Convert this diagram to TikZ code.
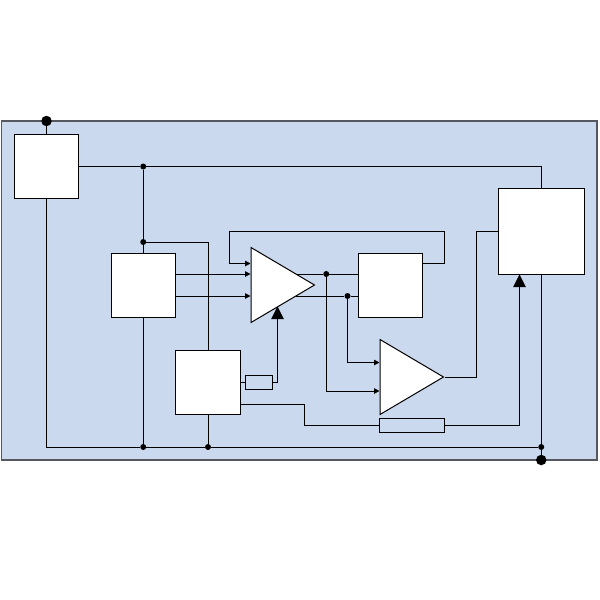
\documentclass[tikz,border=0pt]{standalone}
\usetikzlibrary{shapes.geometric,arrows.meta,backgrounds,calc}
\definecolor{panelblue}{HTML}{CBD9EE}
\definecolor{panelline}{HTML}{55585F}
\tikzset{
  x=1pt,y=-1pt,
  wire/.style={draw=black,line width=1pt},
  smallin/.style={wire,-{Triangle[length=5.5pt,width=5.5pt,fill=black]}},
  bigin/.style={wire,-{Triangle[length=12.5pt,width=12.5pt,fill=black]}},
  blockbox/.style={draw=black,fill=white,line width=1pt,inner sep=0pt,minimum size=64.5pt,rectangle},
  bigblock/.style={blockbox,minimum size=86.5pt},
  resist/.style={draw=black,line width=1pt,inner sep=0pt,rectangle},
  amp/.style={draw=black,fill=white,line width=1pt,inner sep=0pt,isosceles triangle,isosceles triangle apex angle=60,isosceles triangle stretches=true,minimum width=75pt,minimum height=63.5pt,anchor=apex},
  junction/.style={circle,fill=black,inner sep=0pt,minimum size=6pt},
  terminal/.style={circle,fill=black,inner sep=0pt,minimum size=10.5pt},
}
\begin{document}
\begin{tikzpicture}
\useasboundingbox (0,0) rectangle (600,600);
% blocks
\node[blockbox] (b1) at (46.5,166.5) {};
\node[blockbox] (b2) at (143.25,285.25) {};
\node[blockbox] (b3) at (208,382.5) {};
\node[blockbox] (b4) at (390.5,285.25) {};
\node[bigblock] (b5) at (541.25,231.25) {};
\node[amp] (a1) at (315.5,285) {};
\node[amp] (a2) at (444.5,377) {};
\node[resist,minimum width=27pt,minimum height=13.5pt] (r1) at (258.75,382.25) {};
\node[resist,minimum width=64.5pt,minimum height=14pt] (r2) at (412,425.25) {};
% junctions and terminals
\node[terminal] (tt) at (46.5,121) {};
\node[terminal] (tb) at (541.25,460) {};
\node[junction] (j1) at (143.25,166.5) {};
\node[junction] (j2) at (143.25,242) {};
\node[junction] (j3) at (143.25,447) {};
\node[junction] (j4) at (208,447) {};
\node[junction] (j5) at (541.25,447) {};
\node[junction] (j6) at (326.25,274) {};
\node[junction] (j7) at (347.5,296) {};
% routing points
\coordinate (fbr) at (444.5,231.5);
\coordinate (fbl) at (229.5,231.5);
\coordinate (a1i1) at (250.5,263.5);
\coordinate (a1i2) at (250.5,274);
\coordinate (a1i3) at (250.5,296);
\coordinate (a2i1) at (379.5,362.5);
\coordinate (a2i2) at (379.5,391);
\coordinate (a1b) at (277.5,306.5);
\coordinate (b5b) at (519.5,274.5);
\coordinate (o2) at (476.5,377);
\coordinate (s1) at (304.5,404);
\coordinate (s2) at (304.5,425.25);
\coordinate (s3) at (519.5,425.25);
\begin{scope}[on background layer]
\draw[panelline,fill=panelblue,line width=1.2pt] (1.5,121) rectangle (597,460);
% supply rails
\draw[wire] (tt) -- (b1.north);
\draw[wire] (b1.east) -- (j1) -- (j1 -| b5.north) -- (b5.north);
\draw[wire] (j1) -- (j2) -- (b2.north);
\draw[wire] (j2) -- (j2 -| b3.north) -- (b3.north);
\draw[wire] (b1.south) -- (b1.south |- j3) -- (j3) -- (j4) -- (j5);
\draw[wire] (b2.south) -- (j3);
\draw[wire] (b3.south) -- (j4);
\draw[wire] (b5.south) -- (j5) -- (tb);
% first amplifier
\draw[smallin] (b2.east |- a1i2) -- (a1i2);
\draw[smallin] (b2.east |- a1i3) -- (a1i3);
\draw[smallin] (b4.east |- a1i1) -- (fbr |- a1i1) -- (fbr) -- (fbl) -- (fbl |- a1i1) -- (a1i1);
\draw[wire] (296,274) -- (j6) -- (b4.west |- j6);
\draw[wire] (296,296) -- (j7) -- (b4.west |- j7);
\draw[wire] (b3.east |- r1) -- (r1.west);
\draw[bigin] (r1.east) -- (a1b |- r1) -- (a1b);
% second amplifier
\draw[smallin] (j7) -- (j7 |- a2i1) -- (a2i1);
\draw[smallin] (j6) -- (j6 |- a2i2) -- (a2i2);
\draw[wire] (a2.apex) -- (o2) -- (o2 |- fbr) -- (b5.west |- fbr);
% lower path
\draw[wire] (b3.east |- s1) -- (s1) -- (s2) -- (r2.west);
\draw[bigin] (r2.east) -- (s3) -- (b5b);
\end{scope}
\end{tikzpicture}
\end{document}
